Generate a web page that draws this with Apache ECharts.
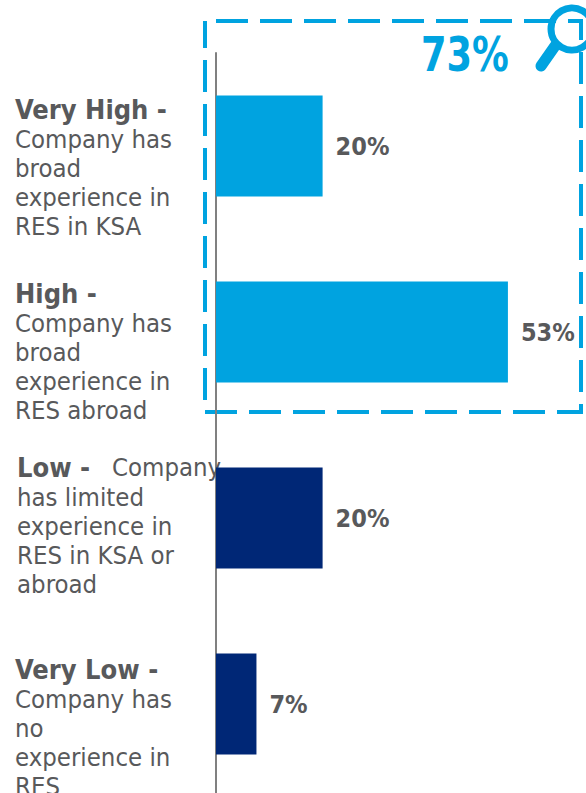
<!DOCTYPE html>
<html>
<head>
<meta charset="utf-8">
<title>Experience in RES</title>
<script src="https://cdn.jsdelivr.net/npm/echarts@6/dist/echarts.min.js"></script>
<style>
html, body { margin: 0; padding: 0; background: #fff; }
#chart1 { width: 586px; height: 793px; }
</style>
</head>
<body>
<div id="chart1"></div>
<script>
var levels = ["Very High -", "High -", "Low -", "Very Low -"];
var descriptions = [
    "Company has\nbroad\nexperience in\nRES in KSA",
    "Company has\nbroad\nexperience in\nRES abroad",
    "has limited\nexperience in\nRES in KSA or\nabroad",
    "Company has\nno\nexperience in\nRES"
];
var inlineWords = ["", "", "   Company", ""];
var values = [19.5, 53.4, 19.5, 7.4];
var barColors = ["#00a3e0", "#00a3e0", "#002776", "#002776"];
var calloutText = "73%";

var fontName = "'DejaVu Sans Condensed', 'DejaVu Sans', sans-serif";
var textColor = "#58595b";
var blue = "#00a3e0";

// the text blocks are not centred on their bars in the original
var labelPads = [[42, 0, 0, 0], [38, 0, 0, 0], [14, 0, 0, 2], [46, 0, 0, 0]];

var categories = levels.map(function (level, i) {
    var head = "{b|" + level + "}";
    if (inlineWords[i]) head += "{n|" + inlineWords[i] + "}";
    var text = head + "\n" + descriptions[i].split("\n").map(function (line) {
        return "{n|" + line + "}";
    }).join("\n");
    return { value: text, textStyle: { padding: labelPads[i], align: "left" } };
});

var myChart = echarts.init(document.getElementById("chart1"), null, { renderer: "svg" });
myChart.setOption({
    animation: false,
    grid: { left: 216, top: 53, width: 328, height: 744, outerBoundsMode: "none" },
    xAxis: {
        type: "value",
        min: 0,
        max: 60,
        show: false
    },
    yAxis: {
        type: "category",
        inverse: true,
        data: categories,
        axisLine: { lineStyle: { color: "#808080", width: 2 } },
        axisTick: { show: false },
        axisLabel: {
            align: "left",
            margin: 201,
            fontFamily: fontName,
            rich: {
                b: { fontFamily: fontName, fontSize: 27, fontWeight: "bold", color: textColor, lineHeight: 30 },
                n: { fontFamily: fontName, fontSize: 25.5, color: textColor, lineHeight: 29 }
            }
        }
    },
    series: [{
        type: "bar",
        barWidth: 101,
        data: values.map(function (v, i) {
            return { value: v, itemStyle: { color: barColors[i] } };
        }),
        label: {
            show: true,
            position: "right",
            distance: 13,
            fontFamily: fontName,
            fontSize: 25,
            fontWeight: "bold",
            color: textColor,
            formatter: function (p) { return Math.round(p.value) + "%"; }
        }
    }],
    graphic: [
        {
            type: "rect",
            shape: { x: 205, y: 21, width: 376, height: 391 },
            style: { fill: null, stroke: blue, lineWidth: 4, lineDash: [32, 12], lineDashOffset: 33 }
        },
        {
            type: "text",
            x: 421,
            y: 31,
            scaleX: 0.85,
            style: { text: calloutText, fill: blue, fontFamily: fontName, fontSize: 48, fontWeight: "bold" }
        },
        {
            type: "circle",
            shape: { cx: 572, cy: 29, r: 21 },
            style: { fill: null, stroke: blue, lineWidth: 7 }
        },
        {
            type: "line",
            shape: { x1: 555, y1: 46, x2: 541, y2: 66 },
            style: { stroke: blue, lineWidth: 11, lineCap: "round" }
        }
    ]
});
</script>
</body>
</html>
